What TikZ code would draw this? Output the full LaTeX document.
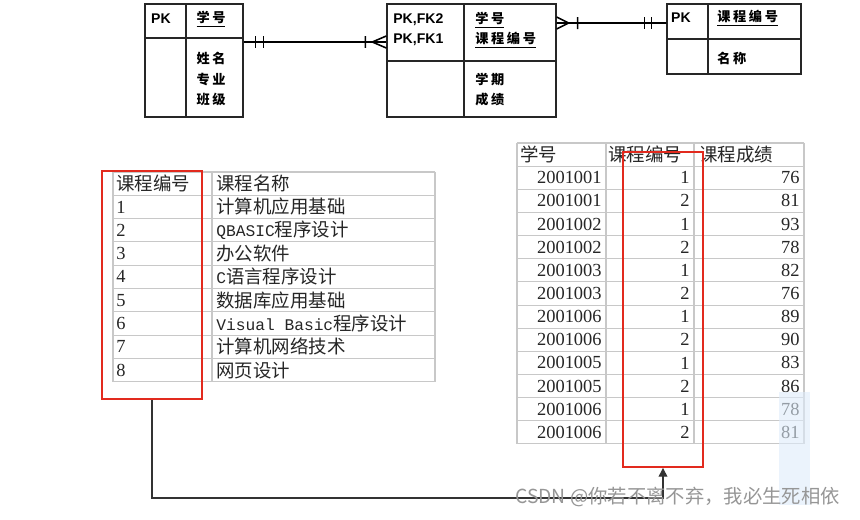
\documentclass[tikz,border=0pt]{standalone}
\usepackage{fontspec}
\setmainfont{Liberation Serif}
\newfontfamily\cjk{Noto Sans CJK SC}
\newfontfamily\ercjk[LetterSpace=20]{Noto Sans CJK SC}
\newfontfamily\ersans{Liberation Sans}
\newfontfamily\tblmono[Scale=0.88]{Liberation Mono}
\newfontfamily\tblnum{Liberation Serif}
\usetikzlibrary{arrows.meta,calc}
\definecolor{gridgray}{RGB}{200,200,200}
\definecolor{boxred}{RGB}{226,42,30}
\definecolor{stripblue}{RGB}{222,236,250}
\definecolor{wmgray}{RGB}{150,150,150}
\newcommand{\erkey}{\ersans\bfseries\fontsize{8}{11.4}\selectfont}
\newcommand{\ercn}{\ercjk\bfseries\fontsize{7.5}{11.4}\selectfont}
\newcommand{\tblcn}{\cjk\fontsize{10.5}{12}\selectfont}
\newcommand{\wmfont}{\cjk\fontsize{11}{13}\selectfont}

\begin{document}
\begin{tikzpicture}[
    x=0.02cm, y=-0.02cm,
    entbox/.style={rectangle, draw=black!85, line width=0.8pt, inner sep=0pt},
    divider/.style={draw=black!85, line width=0.8pt},
    erline/.style={line width=1.1pt, black},
    ermark/.style={line width=0.9pt, black},
    ertext/.style={inner sep=0pt},
    cell/.style={inner sep=0pt, font=\tblcn, text=black!85},
    grid/.style={draw=gridgray, line width=0.6pt},
    redbox/.style={rectangle, draw=boxred, line width=1.1pt, inner sep=0pt},
    arrow/.style={-{Triangle[length=5pt,width=5pt]}, line width=0.7pt, black!80}
]
    \fill[white] (0,0) rectangle (860,520);
    \useasboundingbox (0,0) rectangle (860,520);

    % E-R entities
    \node[entbox, minimum width=1.96cm, minimum height=2.26cm] (stu) at (194,60.5) {};
    \node[entbox, minimum width=3.38cm, minimum height=2.26cm] (enr) at (471.5,60.5) {};
    \node[entbox, minimum width=2.68cm, minimum height=1.4cm] (crs) at (734,39) {};
    \draw[divider] (186,4) -- (186,117) (145,38) -- (243,38);
    \draw[divider] (464,4) -- (464,117) (387,61) -- (556,61);
    \draw[divider] (708,4) -- (708,74) (667,39) -- (801,39);

    \node[ertext, font=\erkey] (stuPK) at (161,19) {PK};
    \node[ertext, font=\ercn] (stuID) at (211,19) {\underline{学号}};
    \node[ertext, font=\ercn, align=left] (stuAttr) at (211,79) {姓名\\专业\\班级};

    \node[ertext, font=\erkey, align=left, anchor=west] (enrPK) at (393,30) {PK,FK2\\PK,FK1};
    \node[ertext, font=\ercn, align=left, anchor=west] (enrID) at (475,30) {\underline{学号}\\\underline{课程编号}};
    \node[ertext, font=\ercn, align=left, anchor=west] (enrAttr) at (475,90) {学期\\成绩};

    \node[ertext, font=\erkey] (crsPK) at (681,18) {PK};
    \node[ertext, font=\ercn, anchor=west] (crsID) at (717,18) {\underline{课程编号}};
    \node[ertext, font=\ercn, anchor=west] (crsAttr) at (717,58) {名称};

    % relationships
    \coordinate (r1a) at ([yshift=0.37cm]stu.east);
    \coordinate (r1b) at ([yshift=0.37cm]enr.west);
    \coordinate (r2a) at ([yshift=0.75cm]enr.east);
    \coordinate (r2b) at ([yshift=0.32cm]crs.west);
    \draw[erline] (r1a) -- (r1b);
    \draw[erline] (r2a) -- (r2b);
    \draw[ermark] ([xshift=0.24cm,yshift=0.12cm]r1a) -- ([xshift=0.24cm,yshift=-0.12cm]r1a)
                  ([xshift=0.4cm,yshift=0.12cm]r1a) -- ([xshift=0.4cm,yshift=-0.12cm]r1a);
    \draw[ermark] ([xshift=-0.42cm,yshift=0.12cm]r1b) -- ([xshift=-0.42cm,yshift=-0.12cm]r1b)
                  ([yshift=0.12cm]r1b) -- ([xshift=-0.28cm]r1b) -- ([yshift=-0.12cm]r1b);
    \draw[ermark] ([yshift=0.12cm]r2a) -- ([xshift=0.24cm]r2a) -- ([yshift=-0.12cm]r2a)
                  ([xshift=0.42cm,yshift=0.12cm]r2a) -- ([xshift=0.42cm,yshift=-0.12cm]r2a);
    \draw[ermark] ([xshift=-0.44cm,yshift=0.12cm]r2b) -- ([xshift=-0.44cm,yshift=-0.12cm]r2b)
                  ([xshift=-0.3cm,yshift=0.12cm]r2b) -- ([xshift=-0.3cm,yshift=-0.12cm]r2b);

    % course table
    \foreach \i in {0,...,9}
        \draw[grid] (113,{172+23.3*\i}) -- (435,{172+23.3*\i});
    \foreach \x in {113,212,435}
        \draw[grid] (\x,172) -- (\x,382);
    \foreach \num/\name [count=\i from 0] in {课程编号/课程名称, {\tblnum 1}/计算机应用基础,
            {\tblnum 2}/{\tblmono QBASIC}程序设计, {\tblnum 3}/办公软件, {\tblnum 4}/{\tblmono C}语言程序设计,
            {\tblnum 5}/数据库应用基础, {\tblnum 6}/{\tblmono Visual Basic}程序设计,
            {\tblnum 7}/计算机网络技术, {\tblnum 8}/网页设计} {
        \node[cell, anchor=west] (crsNo\i) at (116,{172+23.3*(\i+0.5)}) {\num};
        \node[cell, anchor=west] (crsName\i) at (216,{172+23.3*(\i+0.5)}) {\name};
    }

    % score table
    \foreach \i in {0,...,13}
        \draw[grid] (517,{143+23.15*\i}) -- (804,{143+23.15*\i});
    \foreach \x in {517,606,694,804}
        \draw[grid] (\x,143) -- (\x,444);
    \node[cell, anchor=west] (hdStu) at (520,154.6) {学号};
    \node[cell, anchor=west] (hdCrs) at (608,154.6) {课程编号};
    \node[cell, anchor=west] (hdScore) at (699,154.6) {课程成绩};
    \foreach \sid/\cid/\score [count=\i] in {2001001/1/76, 2001001/2/81, 2001002/1/93, 2001002/2/78,
            2001003/1/82, 2001003/2/76, 2001006/1/89, 2001006/2/90, 2001005/1/83, 2001005/2/86,
            2001006/1/78, 2001006/2/81} {
        \node[cell, font=\tblnum\fontsize{10.5}{12}\selectfont, anchor=east] (sid\i) at (602,{143+23.15*(\i+0.5)}) {\sid};
        \node[cell, font=\tblnum\fontsize{10.5}{12}\selectfont, anchor=east] (cid\i) at (690,{143+23.15*(\i+0.5)}) {\cid};
        \node[cell, font=\tblnum\fontsize{10.5}{12}\selectfont, anchor=east] (score\i) at (800,{143+23.15*(\i+0.5)}) {\score};
    }
    \fill[stripblue, fill opacity=0.6] (779,392) rectangle (810,505);

    % highlighted key columns
    \node[redbox, minimum width=2cm, minimum height=4.56cm] (selA) at (152,285) {};
    \node[redbox, minimum width=1.6cm, minimum height=6.3cm] (selB) at (663,309.5) {};
    \draw[arrow] (selA.south) -- ++(0,98) -| (selB.south);

    \node[inner sep=0pt, anchor=west, text=wmgray, font=\wmfont] (wm) at (515,497) {CSDN @你若不离不弃，我必生死相依};
\end{tikzpicture}
\end{document}
